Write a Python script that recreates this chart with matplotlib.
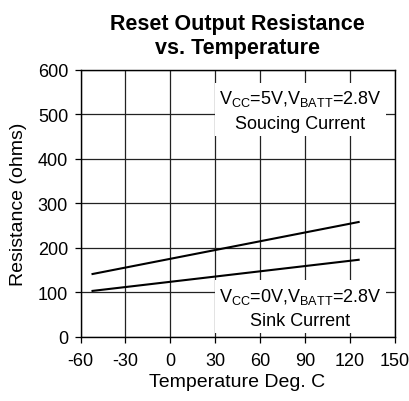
import matplotlib.pyplot as plt
from matplotlib import font_manager

## fonts - narrow sans if we have it
names = {f.name for f in font_manager.fontManager.ttflist}
narrow = 'Liberation Sans Narrow' if 'Liberation Sans Narrow' in names else 'Liberation Sans'
plt.rcParams['font.family'] = [narrow, 'DejaVu Sans']
plt.rcParams['mathtext.fontset'] = 'custom'
plt.rcParams['mathtext.rm'] = narrow
plt.rcParams['mathtext.it'] = narrow
plt.rcParams['axes.unicode_minus'] = False

## data
temp = [-52, 126]
source_res = [141, 258]   # Vcc=5V, sourcing
sink_res = [103, 173]     # Vcc=0V, sink
x_ticks = [-60, -30, 0, 30, 60, 90, 120, 150]
y_ticks = [0, 100, 200, 300, 400, 500, 600]

fig = plt.figure(figsize=(4.09, 4.02), dpi=100)
ax = fig.add_axes([0.197, 0.16, 0.7676, 0.6634])

ax.plot(temp, source_res, color='black', lw=1.5, zorder=5)
ax.plot(temp, sink_res, color='black', lw=1.5, zorder=5)

ax.set_xlim(-60, 150)
ax.set_ylim(0, 600)
ax.set_xticks(x_ticks)
ax.set_yticks(y_ticks)
ax.grid(True, color='#222222', lw=0.9)
ax.set_axisbelow(True)
for s in ax.spines.values():
    s.set_linewidth(1.0)
ax.tick_params(direction='out', length=4, width=0.9, labelsize=13)
ax.tick_params(axis='x', pad=7)
ax.tick_params(axis='y', pad=5)

box = dict(facecolor='white', edgecolor='none', pad=3)
ax.text(87, 510, 'V$_{\\mathrm{CC}}$=5V,V$_{\\mathrm{BATT}}$=2.8V\nSoucing Current',
        ha='center', va='center', fontsize=13, linespacing=1.5, bbox=box, zorder=6)
ax.text(87, 66, 'V$_{\\mathrm{CC}}$=0V,V$_{\\mathrm{BATT}}$=2.8V\nSink Current',
        ha='center', va='center', fontsize=13, linespacing=1.5, bbox=box, zorder=6)

ax.set_xlabel('Temperature Deg. C', fontsize=14, labelpad=3)
ax.set_ylabel('Resistance (ohms)', fontsize=14, labelpad=8)
ax.set_title('Reset Output Resistance\nvs. Temperature', fontsize=15.5,
             fontweight='bold', linespacing=1.2, pad=12)

fig.savefig('out.png', dpi=100)
